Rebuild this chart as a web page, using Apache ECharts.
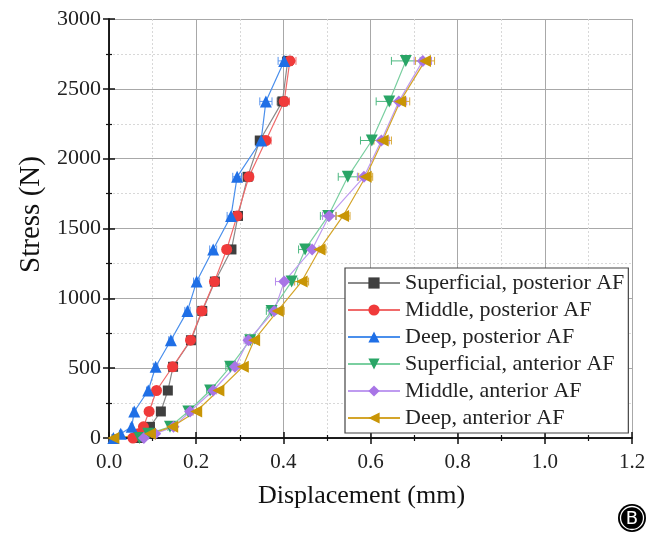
<!DOCTYPE html>
<html>
<head>
<meta charset="utf-8">
<script src="https://cdn.jsdelivr.net/npm/echarts@6/dist/echarts.min.js"></script>
<style>html,body{margin:0;padding:0;background:#fff;}#c{width:664px;height:534px;}</style>
</head>
<body>
<div id="c"></div>
<script>
// Stress levels (N), shared by all series
const stress = [0, 30, 80, 190, 340, 510, 700, 910, 1120, 1350, 1590, 1870, 2130, 2410, 2700];

// Displacement (mm) per series
const supPost = [0.07, 0.085, 0.094, 0.119, 0.135, 0.147, 0.188, 0.214, 0.243, 0.281, 0.296, 0.318, 0.346, 0.398, 0.410];
const midPost = [0.055, 0.067, 0.079, 0.092, 0.109, 0.146, 0.187, 0.213, 0.242, 0.270, 0.294, 0.321, 0.360, 0.402, 0.415];
const deepPost = [0.010, 0.027, 0.052, 0.058, 0.090, 0.107, 0.142, 0.180, 0.201, 0.239, 0.280, 0.294, 0.349, 0.360, 0.402];
const supAnt = [0.070, 0.090, 0.140, 0.182, 0.232, 0.278, 0.324, 0.373, 0.419, 0.450, 0.503, 0.548, 0.603, 0.643, 0.681];
const midAnt = [0.080, 0.106, 0.148, 0.186, 0.239, 0.289, 0.320, 0.379, 0.402, 0.466, 0.505, 0.585, 0.625, 0.665, 0.720];
const deepAnt = [0.010, 0.094, 0.145, 0.200, 0.251, 0.307, 0.333, 0.387, 0.442, 0.483, 0.537, 0.589, 0.628, 0.668, 0.725];

// Horizontal error (mm, ±)
const supPostErr = [0.003, 0.003, 0.003, 0.004, 0.004, 0.005, 0.005, 0.006, 0.007, 0.008, 0.008, 0.009, 0.010, 0.012, 0.012];
const midPostErr = [0.003, 0.003, 0.003, 0.004, 0.004, 0.005, 0.005, 0.006, 0.007, 0.008, 0.009, 0.010, 0.012, 0.012, 0.014];
const deepPostErr = [0.003, 0.003, 0.003, 0.004, 0.004, 0.005, 0.005, 0.006, 0.007, 0.008, 0.009, 0.010, 0.010, 0.014, 0.014];
const supAntErr = [0.003, 0.004, 0.005, 0.006, 0.008, 0.010, 0.010, 0.012, 0.014, 0.015, 0.018, 0.022, 0.026, 0.030, 0.033];
const midAntErr = [0.003, 0.004, 0.005, 0.006, 0.008, 0.010, 0.010, 0.012, 0.020, 0.016, 0.015, 0.015, 0.018, 0.018, 0.020];
const deepAntErr = [0.003, 0.004, 0.005, 0.007, 0.009, 0.011, 0.012, 0.015, 0.016, 0.015, 0.016, 0.016, 0.020, 0.022, 0.022];

const names = ['Superficial, posterior AF', 'Middle, posterior AF', 'Deep, posterior AF',
               'Superficial, anterior AF', 'Middle, anterior AF', 'Deep, anterior AF'];
const xTicks = ['0.0', '0.2', '0.4', '0.6', '0.8', '1.0', '1.2'];
const yTicks = ['0', '500', '1000', '1500', '2000', '2500', '3000'];

const defs = [
  {x: supPost, e: supPostErr, sym: 'rect', mc: '#3f3f3f', lc: '#8a8a8a', ec: '#555555', size: 10},
  {x: midPost, e: midPostErr, sym: 'circle', mc: '#f03a3a', lc: '#f06a6a', ec: '#f07070', size: 11},
  {x: deepPost, e: deepPostErr, sym: 'triangle', mc: '#1f6fe6', lc: '#4a8fec', ec: '#5a95ee', size: 12},
  {x: supAnt, e: supAntErr, sym: 'path://M0,0 L10,0 L5,9 Z', mc: '#29a566', lc: '#7acfa0', ec: '#4db880', size: 12},
  {x: midAnt, e: midAntErr, sym: 'diamond', mc: '#a875e6', lc: '#bf9bf0', ec: '#b88cec', size: 12},
  {x: deepAnt, e: deepAntErr, sym: 'path://M0,5 L9,0 L9,10 Z', mc: '#c99505', lc: '#d4a52a', ec: '#d8a838', size: 12}
];

const serif = '"Liberation Serif", "DejaVu Serif", serif';
const series = [];
defs.forEach((d, i) => {
  const errData = d.x.map((v, k) => [v - d.e[k], v + d.e[k], stress[k]]);
  series.push({
    type: 'custom',
    name: names[i] + ' err',
    data: errData,
    z: 3,
    silent: true,
    renderItem: function (params, api) {
      const p1 = api.coord([api.value(0), api.value(2)]);
      const p2 = api.coord([api.value(1), api.value(2)]);
      const h = 4;
      const st = {stroke: d.ec, lineWidth: 1};
      return {type: 'group', children: [
        {type: 'line', shape: {x1: p1[0], y1: p1[1], x2: p2[0], y2: p2[1]}, style: st},
        {type: 'line', shape: {x1: p1[0], y1: p1[1] - h, x2: p1[0], y2: p1[1] + h}, style: st},
        {type: 'line', shape: {x1: p2[0], y1: p2[1] - h, x2: p2[0], y2: p2[1] + h}, style: st}
      ]};
    }
  });
});
defs.forEach((d, i) => {
  series.push({
    type: 'line',
    name: names[i],
    data: d.x.map((v, k) => [v, stress[k]]),
    symbol: d.sym,
    symbolSize: d.size,
    showAllSymbol: true,
    z: 4,
    lineStyle: {color: d.lc, width: 1.2},
    itemStyle: {color: d.mc, opacity: 1},
    emphasis: {disabled: true}
  });
});

const axisLine = {show: true, lineStyle: {color: '#111', width: 1.5}};
const chart = echarts.init(document.getElementById('c'), null, {renderer: 'canvas'});
chart.setOption({
  animation: false,
  backgroundColor: '#fff',
  grid: {left: 109, right: 32, top: 19, bottom: 96},
  xAxis: [{
    type: 'value', min: 0, max: 1.2, interval: 0.2,
    name: 'Displacement (mm)', nameLocation: 'middle', nameGap: 45,
    nameTextStyle: {fontFamily: serif, fontSize: 26, color: '#111', padding: [0, 18, 0, 0]},
    axisLine: axisLine,
    axisTick: {show: true, inside: false, length: 6, lineStyle: {color: '#111', width: 1.5}},
    minorTick: {show: true, splitNumber: 2, length: 3, lineStyle: {color: '#111', width: 1.2}},
    axisLabel: {fontFamily: serif, fontSize: 21, color: '#222', margin: 14,
      formatter: v => xTicks[Math.round(v / 0.2)] ?? v.toFixed(1)},
    splitLine: {show: true, lineStyle: {color: '#a8a8a8', width: 1}},
    minorSplitLine: {show: true, lineStyle: {color: '#d8d8d8', width: 1, type: [2, 2]}}
  }, {
    type: 'value', min: 0, max: 1.2, interval: 0.2, position: 'top',
    axisLine: axisLine,
    axisTick: {show: true, inside: false, length: 6, lineStyle: {color: '#111', width: 1.5}},
    minorTick: {show: true, splitNumber: 2, length: 3, lineStyle: {color: '#111', width: 1.2}},
    axisLabel: {show: false}, splitLine: {show: false}
  }],
  yAxis: [{
    type: 'value', min: 0, max: 3000, interval: 500,
    name: 'Stress (N)', nameLocation: 'middle', nameGap: 61,
    nameTextStyle: {fontFamily: serif, fontSize: 29, color: '#111', padding: [0, 0, 0, 28]},
    axisLine: axisLine,
    axisTick: {show: true, inside: false, length: 6, lineStyle: {color: '#111', width: 1.5}},
    minorTick: {show: true, splitNumber: 2, length: 3, lineStyle: {color: '#111', width: 1.2}},
    axisLabel: {fontFamily: serif, fontSize: 22, color: '#222', margin: 8,
      formatter: v => yTicks[Math.round(v / 500)] ?? String(v)},
    splitLine: {show: true, lineStyle: {color: '#a8a8a8', width: 1}},
    minorSplitLine: {show: true, lineStyle: {color: '#d8d8d8', width: 1, type: [2, 2]}}
  }, {
    type: 'value', min: 0, max: 3000, interval: 500, position: 'right',
    axisLine: axisLine,
    axisTick: {show: true, inside: false, length: 6, lineStyle: {color: '#111', width: 1.5}},
    minorTick: {show: true, splitNumber: 2, length: 3, lineStyle: {color: '#111', width: 1.2}},
    axisLabel: {show: false}, splitLine: {show: false}
  }],
  legend: {
    data: names,
    orient: 'vertical',
    left: 345, top: 268,
    padding: [4, 4, 4, 2],
    itemGap: 5,
    itemWidth: 52, itemHeight: 14,
    backgroundColor: '#fff',
    borderColor: '#444', borderWidth: 1.2, borderRadius: 0,
    textStyle: {fontFamily: serif, fontSize: 22, color: '#222', padding: [0, 0, 0, 0]},
    selectedMode: false
  },
  series: series,
  graphic: [{
    type: 'group', left: 618, top: 504,
    children: [
      {type: 'circle', shape: {cx: 14, cy: 14, r: 14}, style: {fill: '#000'}},
      {type: 'circle', shape: {cx: 14, cy: 14, r: 11.5}, style: {fill: 'none', stroke: '#fff', lineWidth: 1.3}},
      {type: 'text', style: {x: 14, y: 15, text: 'B', fill: '#fff', font: '18px "DejaVu Sans", sans-serif', align: 'center', verticalAlign: 'middle'}}
    ]
  }]
});
</script>
</body>
</html>
